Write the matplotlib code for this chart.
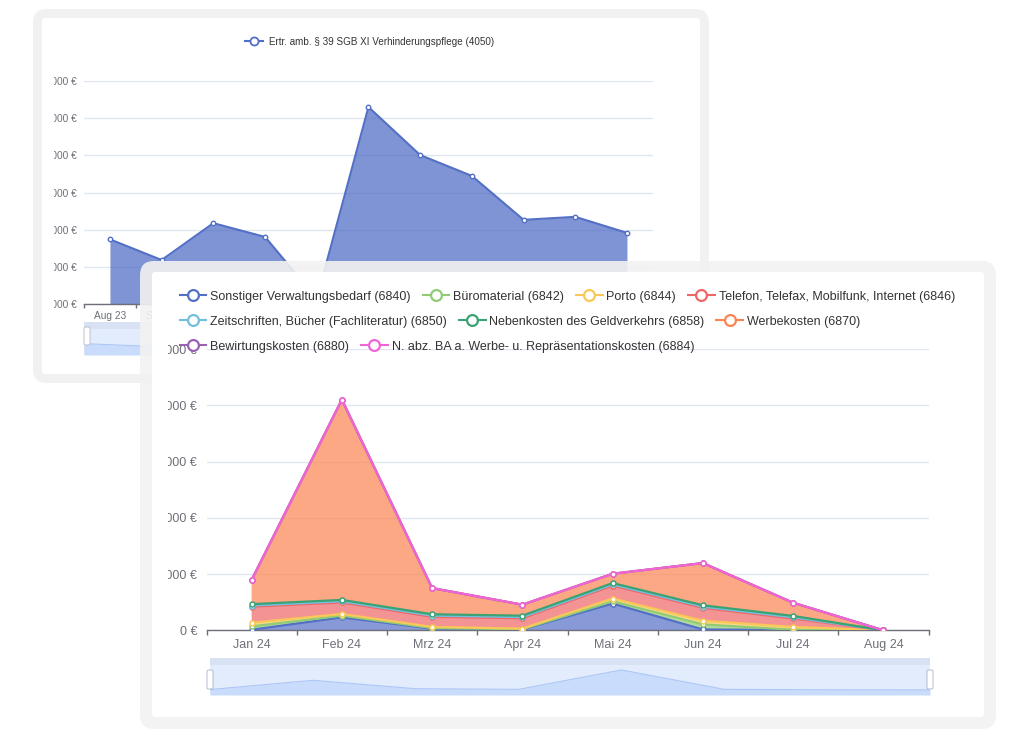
import numpy as np
import matplotlib
matplotlib.use("Agg")
import matplotlib.pyplot as plt
from matplotlib.lines import Line2D
from matplotlib.patches import FancyBboxPatch, Rectangle
from matplotlib import transforms

plt.rcParams["font.family"] = ["Liberation Sans", "DejaVu Sans"]

AXIS = "#6e7079"
GRID = "#e0e6f1"
TEXT = "#333333"

# ---- back chart data (Aug 23 .. Jun 24)
back_months = ["Aug 23", "Sep 23", "Okt 23", "Nov 23", "Dez 23", "Jan 24",
               "Feb 24", "Mrz 24", "Apr 24", "Mai 24", "Jun 24"]
back_values = [2745, 2190, 3180, 2810, 1150, 6300, 5010, 4450, 3270, 3350, 2920]
back_label = "Ertr. amb. § 39 SGB XI Verhinderungspflege (4050)"
back_yticks = [1000, 2000, 3000, 4000, 5000, 6000, 7000]

# ---- front chart data (Jan 24 .. Aug 24), stacked
front_months = ["Jan 24", "Feb 24", "Mrz 24", "Apr 24", "Mai 24", "Jun 24", "Jul 24", "Aug 24"]
sonstiger = [10, 230, 30, 15, 475, 15, 5, 0]
buero = [60, 30, 10, 5, 40, 90, 5, 0]
porto = [65, 30, 20, 10, 50, 65, 50, 0]
telefon = [285, 205, 180, 185, 230, 230, 150, 0]
zeitschriften = [20, 20, 20, 20, 20, 20, 20, 0]
nebenkosten = [25, 25, 25, 25, 25, 25, 25, 0]
werbekosten = [430, 3560, 465, 195, 165, 750, 235, 0]
bewirtung = [0, 0, 0, 0, 0, 0, 0, 0]
repraesentation = [0, 0, 0, 0, 0, 0, 0, 0]
front_yticks = [0, 1000, 2000, 3000, 4000, 5000]

front_series = [sonstiger, buero, porto, telefon, zeitschriften, nebenkosten,
                werbekosten, bewirtung, repraesentation]
front_labels = ["Sonstiger Verwaltungsbedarf (6840)", "Büromaterial (6842)", "Porto (6844)",
                "Telefon, Telefax, Mobilfunk, Internet (6846)",
                "Zeitschriften, Bücher (Fachliteratur) (6850)",
                "Nebenkosten des Geldverkehrs (6858)", "Werbekosten (6870)",
                "Bewirtungskosten (6880)", "N. abz. BA a. Werbe- u. Repräsentationskosten (6884)"]
front_colors = ["#5470c6", "#91cc75", "#fac858", "#ee6666", "#73c0de", "#3ba272",
                "#fc8452", "#9a60b4", "#f065d6"]

W, H = 1024, 737
fig = plt.figure(figsize=(W / 100, H / 100), dpi=100)
fig.patch.set_facecolor("white")
PX = transforms.Affine2D().scale(1 / 100) + fig.dpi_scale_trans


def rect(x0, y0, x1, y1):
    return [x0 / W, 1 - y1 / H, (x1 - x0) / W, (y1 - y0) / H]


def card(x0, y0, x1, y1, r, fc, z, alpha=1.0):
    p = FancyBboxPatch((x0, H - y1), x1 - x0, y1 - y0,
                       boxstyle=f"round,pad=0,rounding_size={r}", transform=PX,
                       fc=fc, ec="none", alpha=alpha, zorder=z)
    fig.add_artist(p)


def euro(v):
    return f"{v:,.0f} €".replace(",", ".")


def style_axes(ax, n, fs, ypad, xpad, ticklen):
    ax.set_facecolor("none")
    for s in ["top", "right", "left"]:
        ax.spines[s].set_visible(False)
    ax.spines["bottom"].set_color(AXIS)
    ax.spines["bottom"].set_linewidth(1)
    ax.set_xlim(-0.5, n - 0.5)
    ax.set_xticks(np.arange(-0.5, n, 1))
    ax.set_xticklabels([])
    ax.tick_params(axis="x", which="major", length=ticklen, color=AXIS, width=1)
    ax.tick_params(axis="x", which="minor", length=0, pad=xpad, labelsize=fs, labelcolor=AXIS)
    ax.tick_params(axis="y", length=0, pad=ypad, labelsize=fs, labelcolor=AXIS)
    ax.grid(True, axis="y", color=GRID, linewidth=1)
    ax.set_axisbelow(True)


def slider(x0, y0, x1, y1, values, ylim, band_frac, z):
    s = fig.add_axes(rect(x0, y0, x1, y1))
    s.set_zorder(z)
    s.set_facecolor("#e2ecfd")
    for sp in s.spines.values():
        sp.set_visible(False)
    s.set_xticks([])
    s.set_yticks([])
    s.set_xlim(0, len(values) - 1)
    s.set_ylim(*ylim)
    s.fill_between(range(len(values)), values, ylim[0], color="#cadcfb", lw=0)
    s.plot(range(len(values)), values, color="#abc6f7", lw=0.8)
    s.add_patch(Rectangle((0, 1 - band_frac), 1, band_frac, transform=s.transAxes,
                          fc="#d8e2f4", ec="none"))
    return s


# ---------------- back card ----------------
card(33, 9, 709, 383, 14, "#f1f1f1", 0.1)
card(42, 18, 700, 374, 3, "white", 0.2)

axb = fig.add_axes(rect(84.1, 81, 652.8, 304.3))
axb.set_zorder(1)
style_axes(axb, len(back_months), 7.3, 5.3, 4.6, 2.9)
xb = np.arange(len(back_months))
axb.fill_between(xb, back_values, back_yticks[0], color="#5470c6", alpha=0.75, lw=0)
axb.plot(xb, back_values, color="#5470c6", lw=1.5, marker="o", ms=3.2,
         mfc="white", mec="#5470c6", mew=1)
axb.set_ylim(back_yticks[0], back_yticks[-1])
axb.set_yticks(back_yticks)
axb.set_yticklabels([euro(v) for v in back_yticks])
axb.set_xticks(xb, minor=True)
blabels = axb.set_xticklabels(back_months, minor=True)
# month labels from Okt 23 on sit fully under the front card
for lbl in blabels[2:]:
    lbl.set_visible(False)

slider(84, 322, 652, 355, back_values, (0, 8000), 0.2, 1.1)
fig.add_artist(FancyBboxPatch((84, H - 345), 6, 18, boxstyle="round,pad=0,rounding_size=1.5",
                              transform=PX, fc="white", ec="#b0b8c8", lw=0.6, zorder=1.16))

legb = fig.legend(handles=[Line2D([], [], color="#5470c6", lw=1.5, marker="o", ms=5.8,
                                  mfc="white", mew=1.3)],
                  labels=[back_label], loc="center left",
                  bbox_to_anchor=(245 / W, 1 - 41.7 / H), frameon=False, fontsize=7.1,
                  handlelength=1.8, handletextpad=0.6, borderpad=0, borderaxespad=0,
                  labelcolor=TEXT)
legb.set_zorder(1.2)

# cover that cuts the back y labels
fig.add_artist(Rectangle((42, H - 320), 11.5, 250, transform=PX, fc="white", ec="none", zorder=1.5))

# ---------------- front card ----------------
card(140, 261, 996, 729, 14, "#f2f2f2", 2, alpha=0.9)
card(152, 272, 984, 717, 3, "white", 2.1)

axf = fig.add_axes(rect(206.5, 349, 928.5, 630.3))
axf.set_zorder(3)
style_axes(axf, len(front_months), 9, 6.8, 6.3, 3.6)
xf = np.arange(len(front_months))
axf.stackplot(xf, *front_series, colors=front_colors, alpha=0.7, lw=0)
cum = np.cumsum(np.array(front_series, dtype=float), axis=0)
for i, c in enumerate(front_colors):
    axf.plot(xf, cum[i], color=c, lw=1.6, marker="o", ms=3.6, mfc="white", mec=c,
             mew=1.1, zorder=3 + i)
axf.set_ylim(front_yticks[0], front_yticks[-1])
axf.set_yticks(front_yticks)
axf.set_yticklabels([euro(v) for v in front_yticks])
axf.set_xticks(xf, minor=True)
axf.set_xticklabels(front_months, minor=True)

slider(210, 658, 930, 695, sonstiger, (-119, 760), 0.19, 3.2)
for hx in (207, 927):
    fig.add_artist(FancyBboxPatch((hx, H - 689), 6, 19, boxstyle="round,pad=0,rounding_size=1.5",
                                  transform=PX, fc="white", ec="#a8b2c4", lw=0.6, zorder=3.4))

# cover that cuts the front y labels
fig.add_artist(Rectangle((152, H - 645), 16, 305, transform=PX, fc="white", ec="none", zorder=3.5))

rows = [(296.7, [0, 1, 2, 3]), (321.7, [4, 5, 6]), (346.7, [7, 8])]
for y, idx in rows:
    handles = [Line2D([], [], color=front_colors[i], lw=1.5, marker="o", ms=7.8,
                      mfc="white", mew=1.6) for i in idx]
    leg = fig.legend(handles=handles, labels=[front_labels[i] for i in idx], loc="center left",
                     bbox_to_anchor=(179.5 / W, 1 - y / H), ncol=len(idx), frameon=False,
                     fontsize=9, handlelength=2.15, handletextpad=0.3, columnspacing=0.95,
                     borderpad=0, borderaxespad=0, labelcolor=TEXT)
    leg.set_zorder(4)

fig.savefig("out.png", dpi=100, facecolor="white")
